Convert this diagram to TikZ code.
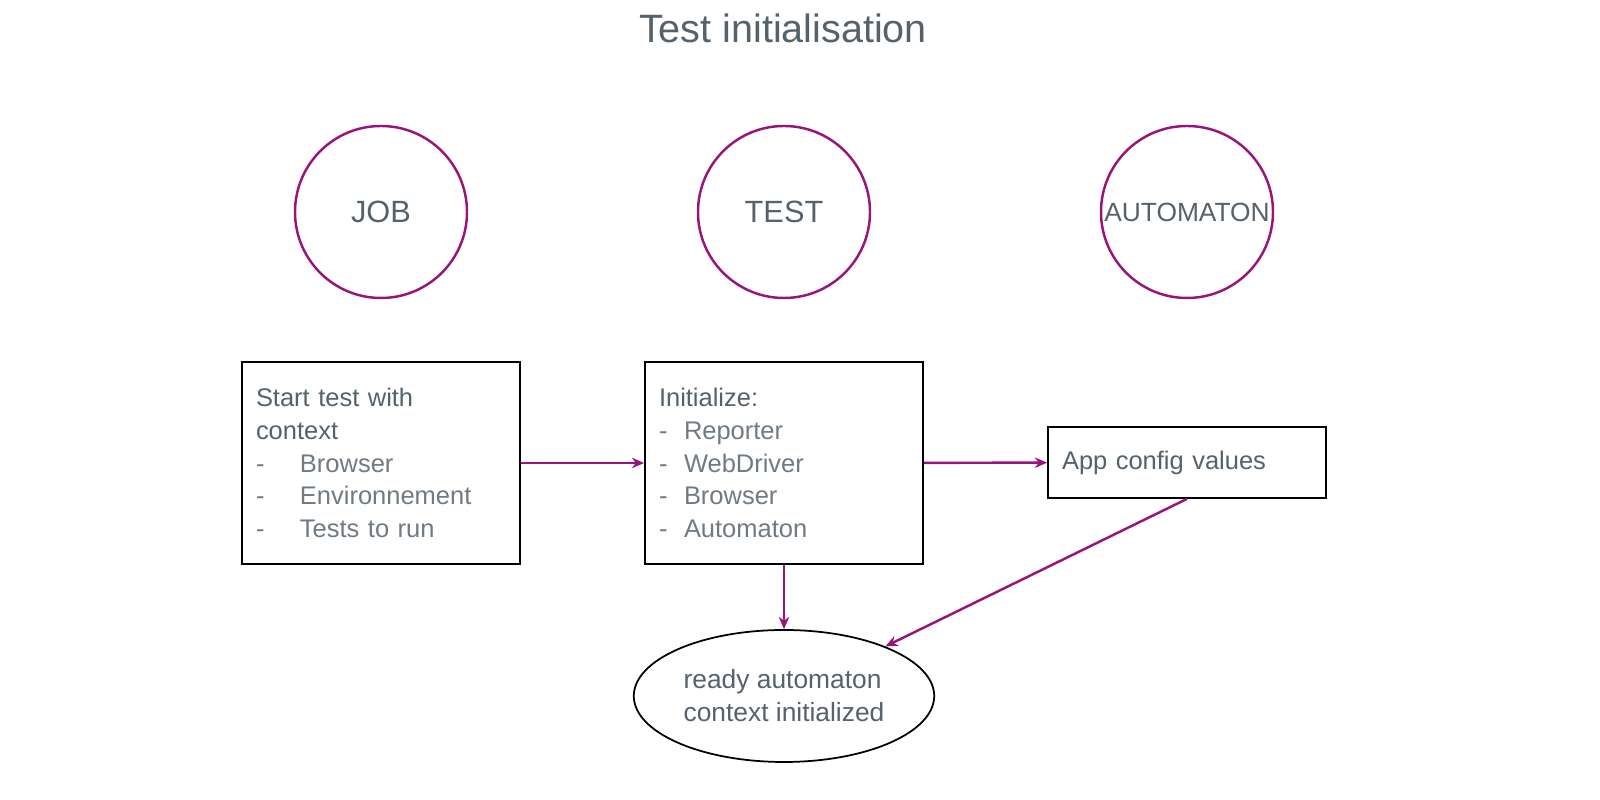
\documentclass[tikz,border=0pt]{standalone}
\usepackage{fontspec}
\setmainfont{Liberation Sans}
\usetikzlibrary{arrows.meta,shapes.geometric}

\definecolor{plum}{RGB}{153,20,122}
\definecolor{inkdark}{RGB}{84,98,108}
\definecolor{inklight}{RGB}{112,122,130}

\newcommand{\itm}[2]{\makebox[#1][l]{-}#2}

\begin{document}
\begin{tikzpicture}[
	actor/.style={draw=plum,line width=1.4pt,circle,minimum size=3.44cm,inner sep=0pt,text=inkdark,font=\fontsize{17.5}{20}\selectfont},
	stepbox/.style={draw,line width=1pt,minimum width=5.56cm,text width=5cm,inner xsep=0.28cm,align=left,text=inklight,font=\fontsize{14.5}{18.7}\selectfont},
	flow/.style={draw=plum,line width=1.4pt,-{Stealth[length=7pt,width=6pt]}}]
			\useasboundingbox (0,0) rectangle (32,16);
			
			\node[text=inkdark,font=\fontsize{22.5}{26}\selectfont] (title) at (15.66,15.44) {Test initialisation};
			
			\node[actor] (job) at (7.62,11.76) {JOB};
			\node[actor] (test) at (15.68,11.76) {TEST};
			\node[actor,font=\fontsize{15}{18}\selectfont] (auto) at (23.74,11.76) {AUTOMATON};
			
			\node[stepbox,minimum height=4.04cm] (start) at (7.62,6.74) {{\color{inkdark}Start test with\\context}\\\itm{0.88cm}{Browser}\\\itm{0.88cm}{Environnement}\\\itm{0.88cm}{Tests to run}};
			\node[stepbox,minimum height=4.04cm] (init) at (15.68,6.74) {{\color{inkdark}Initialize:}\\\itm{0.5cm}{Reporter}\\\itm{0.5cm}{WebDriver}\\\itm{0.5cm}{Browser}\\\itm{0.5cm}{Automaton}};
			\node[stepbox,minimum height=1.42cm,text=inkdark] (config) at (23.74,6.75) {App config values};
			
			\node[draw,ellipse,line width=1pt,minimum width=6cm,minimum height=2.64cm,align=left,text=inkdark,font=\fontsize{15}{18.7}\selectfont] (ready) at (15.68,2.08) {ready automaton\\context initialized};
			
			\path[flow] (start) -- (init);
			\path[flow] (init) -- (config);
			\path[flow] (init) -- (ready);
			\path[flow] (config.south) -- (ready);
		\end{tikzpicture}
\end{document}
